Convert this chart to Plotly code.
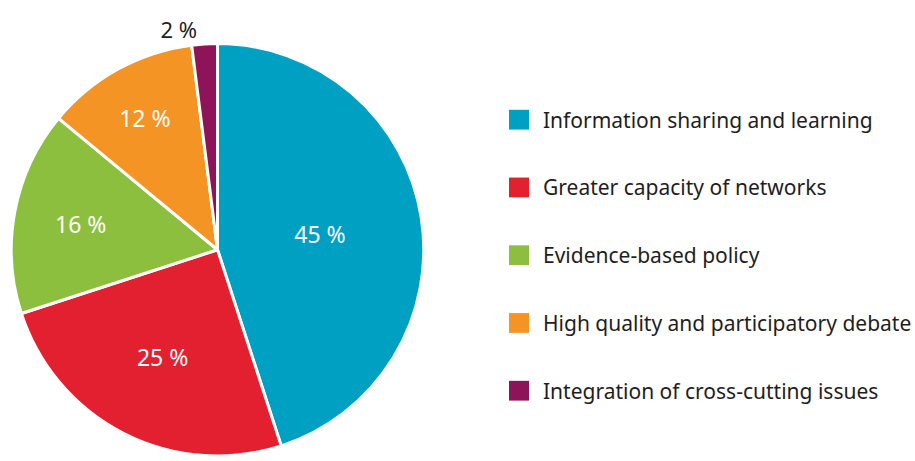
import plotly.graph_objects as go

# Shares of reported benefits
categories = [
    "Information sharing and learning",
    "Greater capacity of networks",
    "Evidence-based policy",
    "High quality and participatory debate",
    "Integration of cross-cutting issues",
]
shares = [45, 25, 16, 12, 2]
colors = ["#00A0C3", "#E3202F", "#8DBF3E", "#F39425", "#8D1458"]
text_positions = ["inside", "inside", "inside", "inside", "outside"]

W, H = 915, 461
FONT = "Noto Sans"
TEXT_DARK = "#1e1e1e"

fig = go.Figure()
fig.add_trace(go.Pie(
    labels=categories,
    values=shares,
    sort=False,
    direction="clockwise",
    rotation=0,
    marker=dict(colors=colors, line=dict(color="white", width=3)),
    texttemplate="%{value} %",
    textposition=text_positions,
    insidetextorientation="horizontal",
    insidetextfont=dict(color="white", size=23, family=FONT),
    outsidetextfont=dict(color=TEXT_DARK, size=22, family=FONT),
    showlegend=False,
    hoverinfo="label+percent",
    domain=dict(x=[8 / W, 427 / W], y=[0, 1 - 44 / H]),
))

# Legend drawn as swatches with labels on the right
legend_top = 121
legend_step = 68.5
for i, (name, col) in enumerate(zip(categories, colors)):
    yc = legend_top + i * legend_step
    fig.add_shape(
        type="rect", xref="paper", yref="paper",
        x0=509 / W, x1=529 / W,
        y0=1 - (yc + 10) / H, y1=1 - (yc - 10) / H,
        fillcolor=col, line=dict(width=0),
    )
    fig.add_annotation(
        xref="paper", yref="paper",
        x=541 / W, y=1 - yc / H,
        xanchor="left", yanchor="middle",
        text=name, showarrow=False,
        font=dict(size=21, color=TEXT_DARK, family=FONT),
    )

fig.update_layout(
    width=W, height=H,
    margin=dict(l=0, r=0, t=0, b=0),
    paper_bgcolor="white",
    plot_bgcolor="white",
)

fig.write_html("out.html")
